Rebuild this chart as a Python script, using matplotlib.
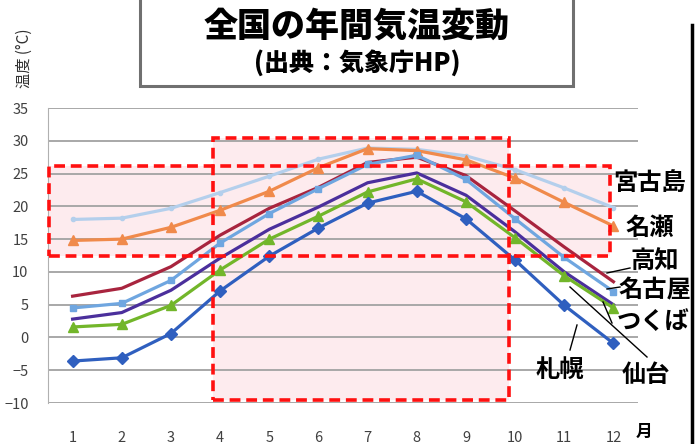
import numpy as np
import matplotlib
matplotlib.use('Agg')
import matplotlib.pyplot as plt
from matplotlib.patches import Rectangle

plt.rcParams['font.family'] = ['Noto Sans CJK JP', 'DejaVu Sans']

months = list(range(1, 13))
month_labels = [str(m) for m in months]

# monthly mean temperature (deg C)
miyakojima = [18.0, 18.2, 19.7, 22.1, 24.6, 27.2, 28.9, 28.7, 27.7, 25.6, 22.8, 19.8]
naze = [14.8, 15.0, 16.8, 19.4, 22.3, 25.9, 28.8, 28.5, 27.1, 24.3, 20.6, 17.0]
kochi = [6.3, 7.5, 10.8, 15.6, 19.7, 22.9, 26.7, 27.5, 24.7, 19.3, 13.8, 8.5]
nagoya = [4.5, 5.2, 8.7, 14.4, 18.9, 22.7, 26.4, 27.8, 24.1, 18.1, 12.2, 7.0]
tsukuba = [2.8, 3.8, 7.2, 12.1, 16.5, 19.9, 23.6, 25.1, 21.7, 16.1, 10.0, 5.0]
sendai = [1.6, 2.0, 4.9, 10.3, 15.0, 18.5, 22.2, 24.2, 20.7, 15.2, 9.4, 4.5]
sapporo = [-3.6, -3.1, 0.6, 7.1, 12.4, 16.7, 20.5, 22.3, 18.1, 11.8, 4.9, -0.9]

series = [
    ('宮古島', miyakojima, '#b4cfec', 'o', 3),
    ('名瀬', naze, '#f08a4b', '^', 7),
    ('高知', kochi, '#a8243e', None, 0),
    ('名古屋', nagoya, '#6fa6e0', 's', 4),
    ('つくば', tsukuba, '#4b2f9c', None, 0),
    ('仙台', sendai, '#72b62a', '^', 7),
    ('札幌', sapporo, '#2f5fbf', 'D', 6),
]

fig = plt.figure(figsize=(6.98, 4.44), dpi=100)
ax = fig.add_axes([0.0688, 0.0923, 0.8453, 0.6644])

for name, vals, col, mk, ms in series:
    ax.plot(months, vals, color=col, lw=2.3, marker=mk, ms=ms,
            markeredgecolor=col, zorder=3)

ax.set_xlim(0.5, 12.5)
ax.set_ylim(-10, 35)
ax.set_yticks(np.arange(-10, 36, 5))
ax.set_xticks(months)
ax.set_xticklabels(month_labels)
ax.yaxis.grid(True, color='#a8a8a8', lw=1.4, zorder=0.5)
ax.set_axisbelow(True)
for s in ['top', 'right', 'bottom']:
    ax.spines[s].set_visible(False)
ax.spines['left'].set_color('#b0b0b0')
ax.tick_params(axis='y', length=0, pad=14, labelsize=10.5, labelcolor='#404040')
ax.tick_params(axis='x', length=0, pad=20, labelsize=10.5, labelcolor='#404040')

# highlighted regions: pale fill under the grid, dashed red outline on top
regions = [(3.86, -9.6, 9.88, 30.4), (0.53, 12.5, 11.92, 26.1)]
for (x0, y0, x1, y1) in regions:
    ax.add_patch(Rectangle((x0, y0), x1 - x0, y1 - y0, facecolor='#fdebee',
                           edgecolor='none', zorder=0.2))
for (x0, y0, x1, y1) in regions:
    ax.add_patch(Rectangle((x0, y0), x1 - x0, y1 - y0, facecolor='none',
                           edgecolor='#ff1010', lw=2.6, ls=(0, (3, 1.6)),
                           zorder=4, clip_on=False))

# city names on the right
bold = dict(fontsize=17.5, fontweight='bold', color='black', ha='left', va='center')
fig.text(613 / 698, 1 - 183 / 444, '宮古島', **bold)
fig.text(626 / 698, 1 - 228 / 444, '名瀬', **bold)
fig.text(630 / 698, 1 - 262 / 444, '高知', **bold)
fig.text(619 / 698, 1 - 290 / 444, '名古屋', **bold)
fig.text(617 / 698, 1 - 322 / 444, 'つくば', **bold)
fig.text(622 / 698, 1 - 375 / 444, '仙台', **bold)
fig.text(536 / 698, 1 - 370 / 444, '札幌', **bold)
fig.text(636 / 698, 1 - 432 / 444, '月', fontsize=12, fontweight='bold', ha='left', va='center')

# leader lines
for (xa, ya, xb, yb) in [(607, 273, 630, 268), (607, 289, 620, 287),
                         (603, 302, 612, 323), (570, 287, 647, 357),
                         (577, 325, 570, 350)]:
    fig.add_artist(plt.Line2D([xa / 698, xb / 698], [1 - ya / 444, 1 - yb / 444],
                              color='black', lw=1.0))

# axis caption
fig.text(24 / 698, 1 - 58 / 444, '温度 (°C)', rotation=90, fontsize=11,
         color='#303030', ha='center', va='center')

# title box
fig.add_artist(Rectangle((140 / 698, 1 - 86 / 444), 433 / 698, 90 / 444,
                         transform=fig.transFigure, facecolor='white',
                         edgecolor='#707070', lw=2.2))
fig.text(357 / 698, 1 - 27 / 444, '全国の年間気温変動', fontsize=24.5,
         fontweight='heavy', ha='center', va='center')
fig.text(357 / 698, 1 - 63 / 444, '(出典：気象庁HP)', fontsize=18,
         fontweight='heavy', ha='center', va='center')

# right edge rule
fig.add_artist(plt.Line2D([692 / 698, 692 / 698], [0, 1 - 25 / 444],
                          color='black', lw=2.5))

fig.savefig('out.png', dpi=100)
